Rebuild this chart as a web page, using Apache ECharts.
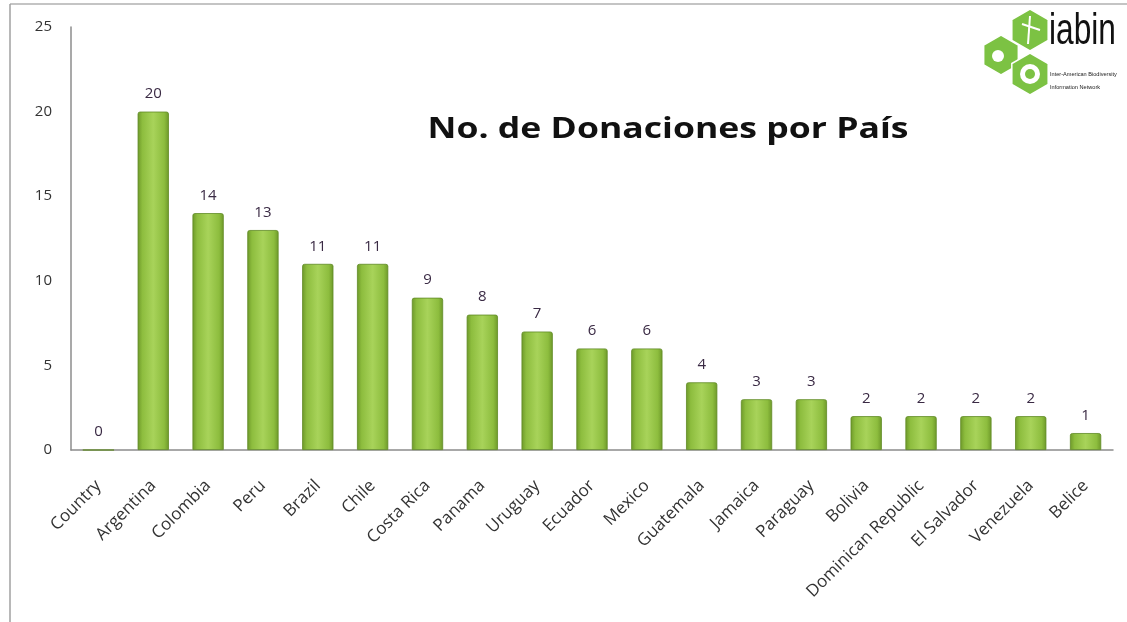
<!DOCTYPE html>
<html>
<head>
<meta charset="utf-8">
<script src="https://cdn.jsdelivr.net/npm/echarts@6/dist/echarts.min.js"></script>
<style>
  html, body { margin: 0; padding: 0; background: #fff; }
  #chart { width: 1127px; height: 622px; }
</style>
</head>
<body>
<div id="chart"></div>
<script>
// datos
const countries = ['Country', 'Argentina', 'Colombia', 'Peru', 'Brazil', 'Chile', 'Costa Rica', 'Panama',
  'Uruguay', 'Ecuador', 'Mexico', 'Guatemala', 'Jamaica', 'Paraguay', 'Bolivia', 'Dominican Republic',
  'El Salvador', 'Venezuela', 'Belice'];
const donaciones = [0, 20, 14, 13, 11, 11, 9, 8, 7, 6, 6, 4, 3, 3, 2, 2, 2, 2, 1];
const yTicks = [0, 5, 10, 15, 20, 25];
const titulo = 'No. de Donaciones por País';

const FONT = '"Open Sans", Lato, sans-serif';
const GREEN = '#7cc243';

// hexagono (punta arriba) para el logo
function hexPoints(cx, cy, r) {
  const pts = [];
  for (let i = 0; i < 6; i += 1) {
    const a = (Math.PI / 3) * i + Math.PI / 6;
    pts.push([cx + r * Math.cos(a), cy + r * Math.sin(a)]);
  }
  return pts;
}

const chart = echarts.init(document.getElementById('chart'));

const barColor = new echarts.graphic.LinearGradient(0, 0, 1, 0, [
  { offset: 0, color: '#6d9829' },
  { offset: 0.15, color: '#8dbd3e' },
  { offset: 0.5, color: '#a8d35a' },
  { offset: 0.85, color: '#8dbd3e' },
  { offset: 1, color: '#6d9829' },
]);

const option = {
  backgroundColor: '#ffffff',
  animation: false,
  grid: {
    left: 71,
    right: 14,
    top: 27,
    bottom: 172,
    containLabel: false,
  },
  xAxis: {
    type: 'category',
    data: countries,
    axisLine: { lineStyle: { color: '#8c8c8c', width: 1.5 } },
    axisTick: { show: false },
    axisLabel: {
      rotate: 45,
      interval: 0,
      margin: 33,
      fontFamily: FONT,
      fontSize: 17,
      color: '#333333',
    },
  },
  yAxis: {
    type: 'value',
    min: yTicks[0],
    max: yTicks[yTicks.length - 1],
    interval: 5,
    axisLine: { show: true, lineStyle: { color: '#8c8c8c', width: 1.5 } },
    axisTick: { show: false },
    splitLine: { show: false },
    axisLabel: {
      margin: 19,
      fontFamily: FONT,
      fontSize: 15,
      color: '#333333',
    },
  },
  series: [
    {
      type: 'bar',
      data: donaciones,
      barWidth: '57%',
      itemStyle: {
        color: barColor,
        borderColor: '#5f8a24',
        borderWidth: 0.8,
        borderRadius: [2, 2, 0, 0],
      },
      label: {
        show: true,
        position: 'top',
        distance: 10,
        fontFamily: FONT,
        fontSize: 15,
        color: '#3a2a44',
      },
    },
  ],
  graphic: [
    // marco
    { type: 'line', shape: { x1: 10, y1: 4, x2: 1127, y2: 4 }, style: { stroke: '#b0b0b0', lineWidth: 1.5 } },
    { type: 'line', shape: { x1: 10, y1: 4, x2: 10, y2: 622 }, style: { stroke: '#a0a0a0', lineWidth: 1.5 } },
    // titulo (estirado en horizontal como en la imagen)
    {
      type: 'text', x: 668, y: 130, scaleX: 1.27,
      style: {
        text: titulo, fontFamily: FONT, fontSize: 28, fontWeight: 'bold', fill: '#111111',
        align: 'center', verticalAlign: 'middle',
      },
    },
    // logo iabin
    { type: 'polygon', shape: { points: hexPoints(1001, 55, 20) }, style: { fill: GREEN, stroke: '#ffffff', lineWidth: 1.5 } },
    { type: 'polygon', shape: { points: hexPoints(1030, 30, 21) }, style: { fill: GREEN, stroke: '#ffffff', lineWidth: 1.5 } },
    { type: 'polygon', shape: { points: hexPoints(1030, 74, 21) }, style: { fill: GREEN, stroke: '#ffffff', lineWidth: 1.5 } },
    { type: 'circle', shape: { cx: 1030, cy: 74, r: 10 }, style: { fill: '#ffffff' } },
    { type: 'circle', shape: { cx: 1030, cy: 74, r: 5 }, style: { fill: GREEN } },
    { type: 'circle', shape: { cx: 998, cy: 56, r: 6 }, style: { fill: '#ffffff' } },
    { type: 'line', shape: { x1: 1022, y1: 24, x2: 1040, y2: 30 }, style: { stroke: '#ffffff', lineWidth: 2 } },
    { type: 'line', shape: { x1: 1030, y1: 16, x2: 1028, y2: 44 }, style: { stroke: '#ffffff', lineWidth: 2 } },
    {
      type: 'text', x: 1049, y: 10, scaleX: 0.72,
      style: { text: 'iabin', fontFamily: '"Liberation Sans", sans-serif', fontSize: 44, fill: '#111111', verticalAlign: 'top' },
    },
    {
      type: 'text', left: 1050, top: 71,
      style: { text: 'Inter-American Biodiversity', fontFamily: '"Liberation Sans", sans-serif', fontSize: 5.6, fill: '#222222' },
    },
    {
      type: 'text', left: 1050, top: 84,
      style: { text: 'Information Network', fontFamily: '"Liberation Sans", sans-serif', fontSize: 5.6, fill: '#222222' },
    },
  ],
};

chart.setOption(option);
</script>
</body>
</html>
